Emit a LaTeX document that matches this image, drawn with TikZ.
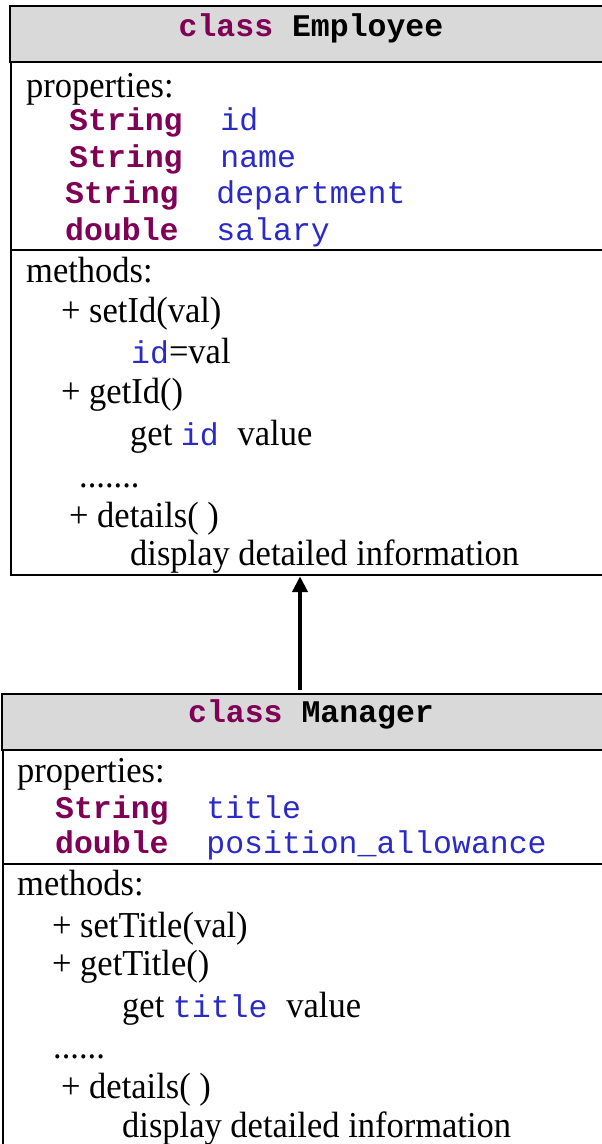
\documentclass[tikz,border=0pt]{standalone}
\usepackage{fontspec}
\setmainfont[FakeStretch=0.945]{Liberation Serif}
\setmonofont{Liberation Mono}
\usetikzlibrary{arrows.meta}

\definecolor{kwpurple}{HTML}{7F0055}
\definecolor{fieldblue}{HTML}{2A2AC8}
\definecolor{headgray}{HTML}{D9D9D9}

% code fragments: keywords, fields and class names
\newcommand{\kw}[1]{{\fontsize{31.5}{36}\ttfamily\bfseries\color{kwpurple}#1}}
\newcommand{\fld}[1]{{\fontsize{31.5}{36}\ttfamily\color{fieldblue}#1}}
\newcommand{\cname}[1]{{\fontsize{31.5}{36}\ttfamily\bfseries #1}}
\newcommand{\tsp}{{\fontsize{31.5}{36}\ttfamily\ }}

\begin{document}
\begin{tikzpicture}[x=1pt,y=-1pt,
  txt/.style={anchor=base west, inner sep=0pt, font=\fontsize{36.5}{44}\selectfont},
  title/.style={anchor=base, inner sep=0pt, font=\fontsize{31.5}{36}\selectfont},
  boxline/.style={draw=black, line width=2.2pt},
  classbox/.style={boxline, anchor=north west, inner sep=0pt},
  header/.style={boxline, fill=headgray},
  inherit/.style={line width=4pt, -{Triangle[width=15pt,length=16pt]}}]

\useasboundingbox (0,0) rectangle (602,1144);
\clip (0,0) rectangle (602,1144);

% ---------------- class Employee ----------------
\node[classbox, minimum width=640pt, minimum height=568pt] (emp) at (10,6) {};
\draw[header] (10,6) rectangle (650,62);
\draw[boxline] (10,250) -- (650,250);

\node[title] (empTitle) at (311,36) {\kw{class}\tsp\cname{Employee}};

\node[txt] (empProps) at (26,97) {properties:};
\node[txt] (empP1) at (69,130) {\kw{String}\tsp\tsp\fld{id}};
\node[txt] (empP2) at (69,167) {\kw{String}\tsp\tsp\fld{name}};
\node[txt] (empP3) at (65,203) {\kw{String}\tsp\tsp\fld{department}};
\node[txt] (empP4) at (65,240) {\kw{double}\tsp\tsp\fld{salary}};

\node[txt] (empMeth) at (26,282) {methods:};
\node[txt] (empM1) at (61,322) {+ setId(val)};
\node[txt] (empM1b) at (131,363) {\fld{id}=val};
\node[txt] (empM2) at (61,403) {+ getId()};
\node[txt] (empM2b) at (130,445) {get \fld{id\ }value};
\node[txt] (empDots) at (79,487) {.......};
\node[txt] (empM3) at (69,527) {+ details( )};
\node[txt] (empM3b) at (130,565) {display detailed information};

% ---------------- class Manager ----------------
\node[classbox, minimum width=648pt, minimum height=520pt] (mgr) at (2,694) {};
\draw[header] (2,694) rectangle (650,750);
\draw[boxline] (2,864) -- (650,864);

\node[title] (mgrTitle) at (311,722) {\kw{class}\tsp\cname{Manager}};

\node[txt] (mgrProps) at (17,782) {properties:};
\node[txt] (mgrP1) at (55,818) {\kw{String}\tsp\tsp\fld{title}};
\node[txt] (mgrP2) at (55,853) {\kw{double}\tsp\tsp\fld{position\_allowance}};

\node[txt] (mgrMeth) at (17,895) {methods:};
\node[txt] (mgrM1) at (52,937) {+ setTitle(val)};
\node[txt] (mgrM2) at (52,975) {+ getTitle()};
\node[txt] (mgrM2b) at (122,1017) {get \fld{title\ }value};
\node[txt] (mgrDots) at (53,1058) {......};
\node[txt] (mgrM3) at (61,1098) {+ details( )};
\node[txt] (mgrM3b) at (122,1137) {display detailed information};

% ---------------- inheritance ----------------
\coordinate (arrowTail) at (300,690);
\draw[inherit] (arrowTail) -- (arrowTail |- emp.south);

\end{tikzpicture}
\end{document}
